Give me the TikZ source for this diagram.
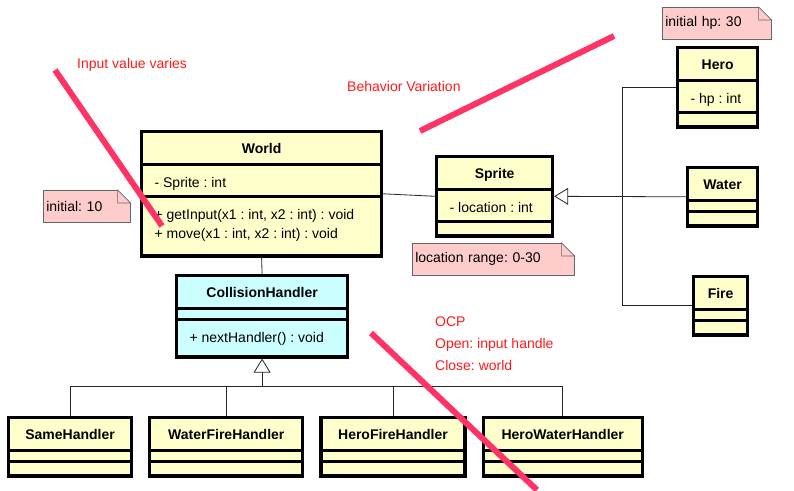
\documentclass[tikz,border=0pt]{standalone}
\usepackage{fontspec}
\setmainfont{Liberation Sans}
\usepackage{xcolor}
\usepackage{tikz}
\usetikzlibrary{arrows.meta,positioning,shapes.multipart}
\frenchspacing

\definecolor{clsyellow}{HTML}{FFFFCC}
\definecolor{clscyan}{HTML}{CCFFFF}
\definecolor{notepink}{HTML}{FFCCCC}
\definecolor{markpink}{HTML}{FF3366}
\definecolor{remarkred}{HTML}{FF1A1A}

% struts fixing the compartment heights
\newcommand{\clstitle}{\rule[-10.5pt]{0pt}{32pt}}
\newcommand{\clsrow}{\rule[-8pt]{0pt}{31pt}}
\newcommand{\clsmid}{\rule{0pt}{10pt}}
\newcommand{\clsend}{\rule{0pt}{14pt}}

\begin{document}
\begin{tikzpicture}[
  x=1pt, y=-1pt,
  font=\fontsize{14}{19}\selectfont,
  cls/.style={
    rectangle split, rectangle split parts=3, rectangle split draw splits,
    rectangle split part align={center,left,left},
    draw, line width=0.8pt, fill=clsyellow,
    inner ysep=0pt, inner xsep=13pt, outer sep=1.6pt,
    postaction={draw, line width=3.2pt}, anchor=north west
  },
  note/.style={
    draw=black!60, line width=0.6pt, fill=notepink,
    inner xsep=3pt, inner ysep=0pt, minimum height=32pt,
    align=left, anchor=north west
  },
  fold/.style={draw=black!60, line width=0.6pt, fill=notepink},
  assoc/.style={draw=black!85, line width=0.8pt},
  gen/.style={assoc, -{Triangle[length=14pt, width=17pt, fill=white]}},
  remark/.style={text=remarkred, inner sep=0pt, align=left},
  strike/.style={draw=markpink, line width=6pt}
]
\useasboundingbox (0,0) rectangle (794,490);

% classes
\node[cls, minimum width=240pt] (world) at (140,130) {\textbf{World}\clstitle\nodepart{two}\clsrow - Sprite : int
  \nodepart{three}\vtop{\hbox{\rule{0pt}{23pt}+ getInput(x1 : int, x2 : int) : void}\hbox{\rule[-17pt]{0pt}{19pt}+ move(x1 : int, x2 : int) : void}}};
\node[cls, minimum width=116pt] (sprite) at (435,155) {\textbf{Sprite}\clstitle\nodepart{two}\clsrow - location : int
  \nodepart{three}\clsend};
\node[cls, minimum width=80pt] (hero) at (676,46) {\textbf{Hero}\clstitle\nodepart{two}\clsrow - hp : int
  \nodepart{three}\clsend};
\node[cls, minimum width=70pt] (water) at (686,166) {\textbf{Water}\clstitle\nodepart{two}\clsmid\nodepart{three}\clsend};
\node[cls, minimum width=54pt] (fire) at (692,275) {\textbf{Fire}\clstitle\nodepart{two}\clsmid\nodepart{three}\clsend};
\node[cls, fill=clscyan, minimum width=171pt] (ch) at (175,274) {\textbf{CollisionHandler}\clstitle\nodepart{two}\clsmid
  \nodepart{three}\rule[-14pt]{0pt}{37pt}+ nextHandler() : void};

\node[cls, minimum width=123pt] (same) at (7,416) {\textbf{SameHandler}\clstitle\nodepart{two}\clsmid\nodepart{three}\clsend};
\node[cls, minimum width=153pt, right=15pt of same] (waterfire) {\textbf{WaterFireHandler}\clstitle\nodepart{two}\clsmid\nodepart{three}\clsend};
\node[cls, minimum width=144pt, right=15pt of waterfire] (herofire) {\textbf{HeroFireHandler}\clstitle\nodepart{two}\clsmid\nodepart{three}\clsend};
\node[cls, minimum width=159pt, right=15pt of herofire] (herowater) {\textbf{HeroWaterHandler}\clstitle\nodepart{two}\clsmid\nodepart{three}\clsend};

% notes
\node[note, text width=81pt] (noteinit) at (43,190) {initial: 10};
\node[note, text width=103pt] (notehp) at (662,7) {initial hp: 30};
\node[note, text width=156pt] (noteloc) at (412,243) {location range: 0-30};
\foreach \n in {noteinit,notehp,noteloc} {
  \fill[white] ([xshift=-13pt,yshift=1pt]\n.north east) -- ([xshift=1pt,yshift=1pt]\n.north east)
    -- ([xshift=1pt,yshift=-13pt]\n.north east) -- ([yshift=-13pt]\n.north east) -- ([xshift=-13pt]\n.north east) -- cycle;
  \draw[fold] ([xshift=-13pt]\n.north east) -- ([yshift=-13pt]\n.north east)
    -- ([xshift=-13pt,yshift=-13pt]\n.north east) -- cycle;
}

% relations
\draw[assoc] (world.east) -- (sprite.west);
\draw[assoc] (world.south) -- (ch.north);
\coordinate (genbus) at ([xshift=68pt]sprite.east);
\draw[gen] (water.west) -- (sprite.east);
\draw[assoc] (hero.west) -| (genbus);
\draw[assoc] (fire.west) -| (genbus);
\coordinate (handlerbus) at ([yshift=-28pt]ch.south);
\draw[gen] (handlerbus) -- (ch.south);
\foreach \h in {same,waterfire,herofire,herowater}
  \draw[assoc] (\h.north) |- (handlerbus);

% remarks
\node[remark, anchor=base west] (inputtxt) at (77,68) {Input value varies};
\node[remark, anchor=base west] (behaviortxt) at (347,91) {Behavior Variation};
\node[remark, anchor=north west, font=\fontsize{14}{22}\selectfont] (ocptxt) at (435,317) {OCP\\Open: input handle\\Close: world};

% strike marks
\draw[strike] (55,70) -- (162,226);
\draw[strike] (420,131) -- (614,36);
\draw[strike] (371,333) -- (537,490);

\end{tikzpicture}
\end{document}
